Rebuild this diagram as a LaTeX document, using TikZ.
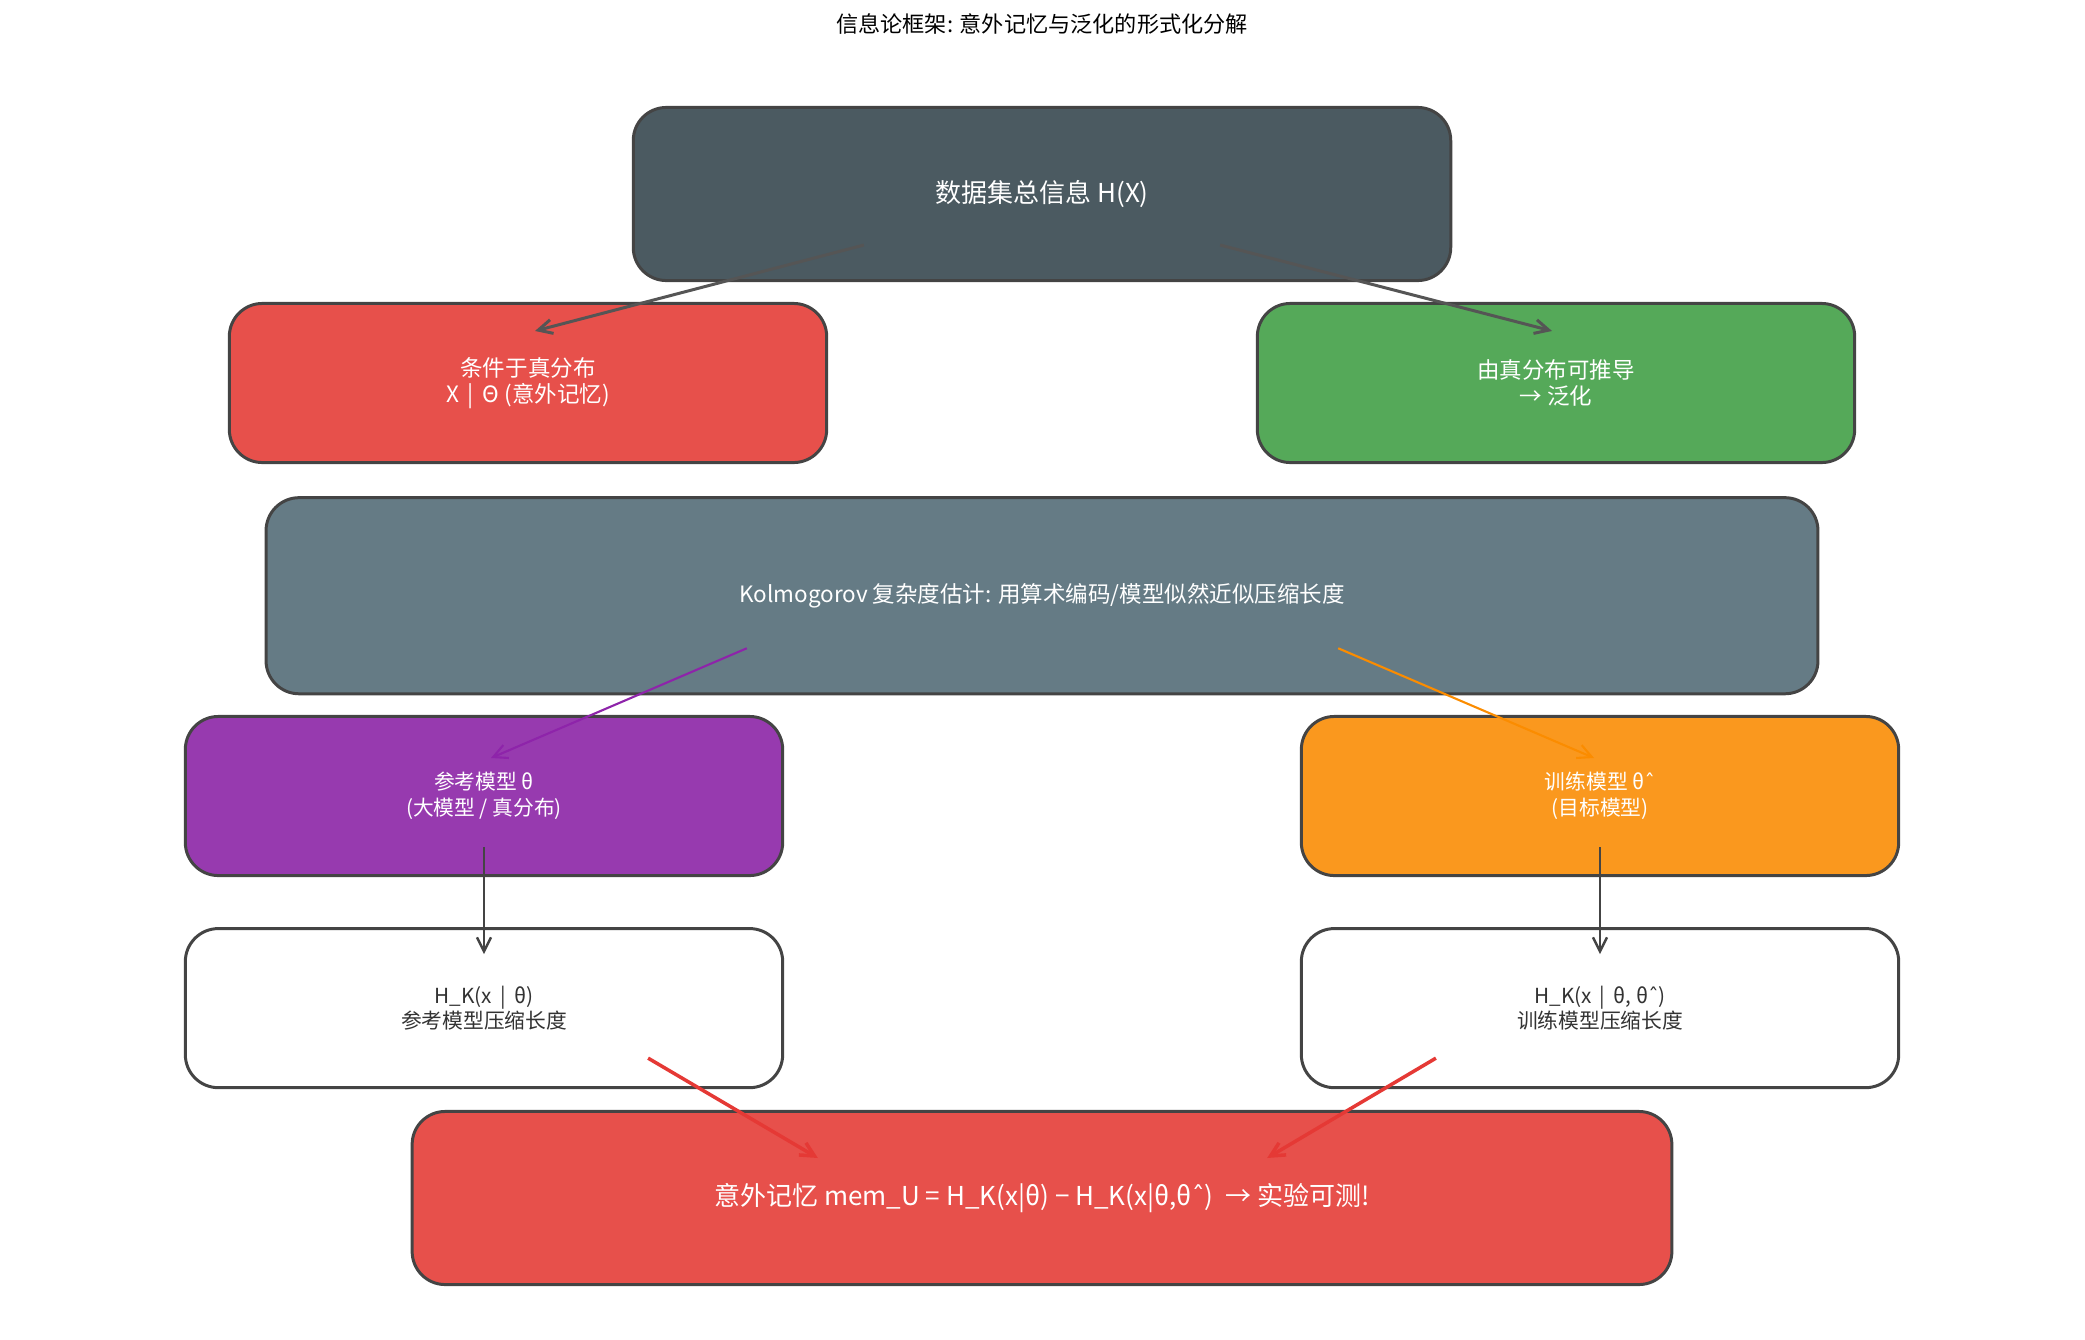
\documentclass[tikz,border=0pt]{standalone}
\usepackage{fontspec}
\setmainfont{Noto Sans CJK SC}
\newfontfamily\symfont{DejaVu Sans}
\newcommand{\thetahat}{θ{\symfont ˆ}}
\usepackage{tikz}
\usetikzlibrary{arrows.meta, positioning}
\definecolor{infoslate}{RGB}{75,90,97}
\definecolor{memred}{RGB}{231,80,75}
\definecolor{genegreen}{RGB}{85,169,89}
\definecolor{kolmoslate}{RGB}{101,123,133}
\definecolor{refpurple}{RGB}{151,58,175}
\definecolor{trainorange}{RGB}{250,152,30}
\definecolor{edgedark}{RGB}{68,68,68}
\definecolor{arrowdark}{RGB}{85,85,85}
\definecolor{arrowpurple}{RGB}{142,36,170}
\definecolor{arroworange}{RGB}{251,140,0}
\definecolor{arrowred}{RGB}{229,57,53}
\definecolor{textdark}{RGB}{51,51,51}

\begin{document}
\begin{tikzpicture}[
  x=0.01cm, y=-0.01cm,
  node distance=0.5cm and 0cm,
  block/.style={
    rectangle, rounded corners=0.33cm, draw=edgedark, line width=0.85pt,
    align=center, text=white, inner sep=0pt
  },
  halfbox/.style={block, minimum width=5.97cm, minimum height=1.59cm},
  txtbig/.style={font=\fontsize{7.4}{8.8}\selectfont},
  txtmid/.style={font=\fontsize{6.4}{7.3}\selectfont},
  txtsmall/.style={font=\fontsize{5.9}{7.3}\selectfont},
  arrow/.style={-{Straight Barb[length=1.4mm,width=1.4mm]}, line width=0.85pt}
]
\useasboundingbox (0,0) rectangle (2085,1339);

% Title
\node[font=\fontsize{6.3}{7.5}\selectfont] (title) at (1042,24)
  {信息论框架: 意外记忆与泛化的形式化分解};

% Module nodes
\node[block, fill=infoslate, minimum width=8.17cm, minimum height=1.73cm, txtbig]
  (total) at (1042,194) {数据集总信息 H(X)};
\node[halfbox, fill=memred, txtmid] (cond) at (528,383)
  {条件于真分布\\X \,|\, Θ (意外记忆)};
\node[halfbox, fill=genegreen, txtmid] (gen) at (1556,383)
  {由真分布可推导\\→ 泛化};
\node[block, fill=kolmoslate, minimum width=15.51cm, minimum height=1.96cm, txtmid,
  below=2.14cm of total] (kolmo)
  {Kolmogorov 复杂度估计: 用算术编码/模型似然近似压缩长度};
\node[halfbox, fill=refpurple, txtsmall] (refm) at (484,796)
  {参考模型 θ\\(大模型 / 真分布)};
\node[halfbox, fill=trainorange, txtsmall] (trainm) at (1600,796)
  {训练模型 \thetahat\\(目标模型)};
\node[halfbox, fill=white, text=textdark, txtsmall, below=of refm] (refk)
  {H\_K(x \,|\, θ)\\参考模型压缩长度};
\node[halfbox, fill=white, text=textdark, txtsmall, below=of trainm] (traink)
  {H\_K(x \,|\, θ, \thetahat)\\训练模型压缩长度};
\node[block, fill=memred, minimum width=12.59cm, minimum height=1.73cm, txtbig]
  (memu) at (1042,1198)
  {意外记忆 mem\_U = H\_K(x|θ) − H\_K(x|θ,\thetahat) \ → 实验可测!};

% Arrows
\draw[arrow, arrowdark] ([xshift=-1.78cm, yshift=0.37cm]total.south) -- ([xshift=0.07cm, yshift=-0.29cm]cond.north);
\draw[arrow, arrowdark] ([xshift=1.78cm, yshift=0.37cm]total.south) -- ([xshift=-0.04cm, yshift=-0.29cm]gen.north);
\draw[arrow, arrowpurple, line width=0.6pt] ([xshift=-2.95cm, yshift=0.47cm]kolmo.south) -- ([xshift=0.07cm, yshift=-0.43cm]refm.north);
\draw[arrow, arroworange, line width=0.6pt] ([xshift=2.96cm, yshift=0.47cm]kolmo.south) -- ([xshift=-0.06cm, yshift=-0.43cm]trainm.north);
\draw[arrow, edgedark, line width=0.7pt] ([yshift=0.30cm]refm.south) -- ([yshift=-0.27cm]refk.north);
\draw[arrow, edgedark, line width=0.7pt] ([yshift=0.30cm]trainm.south) -- ([yshift=-0.27cm]traink.north);
\draw[arrow, arrowred, line width=1pt] ([xshift=1.64cm, yshift=0.31cm]refk.south) -- ([xshift=-2.24cm, yshift=-0.48cm]memu.north);
\draw[arrow, arrowred, line width=1pt] ([xshift=-1.64cm, yshift=0.31cm]traink.south) -- ([xshift=2.25cm, yshift=-0.48cm]memu.north);

\end{tikzpicture}
\end{document}
